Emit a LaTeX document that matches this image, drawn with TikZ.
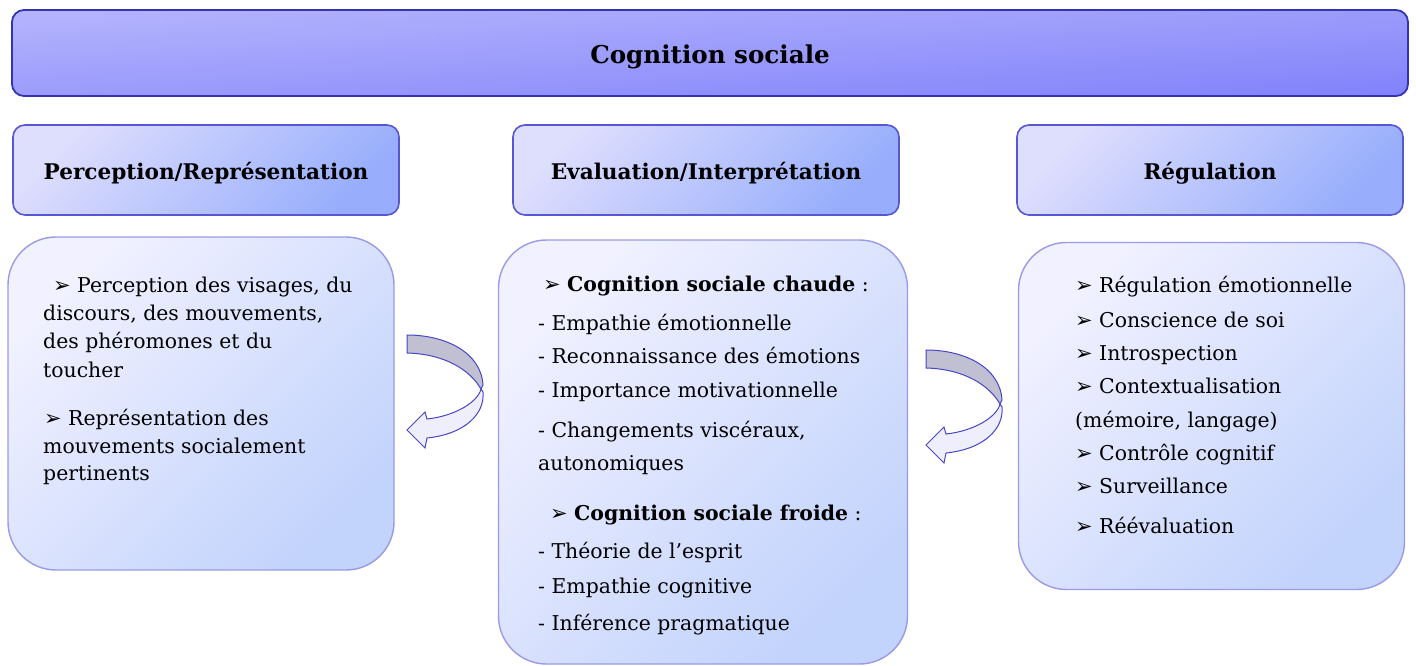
\documentclass[tikz,border=0pt]{standalone}
\usepackage{fontspec}
\setmainfont{DejaVu Serif}
\newfontfamily\symfont{DejaVu Sans}

\definecolor{bantop}{HTML}{B5B5FD}
\definecolor{banbot}{HTML}{8282FB}
\definecolor{banline}{HTML}{3333B3}
\definecolor{headtop}{HTML}{DEDEFD}
\definecolor{headbot}{HTML}{98AEFC}
\definecolor{headline}{HTML}{5757D6}
\definecolor{boxtop}{HTML}{F1F1FF}
\definecolor{boxbot}{HTML}{C2D3FC}
\definecolor{boxline}{HTML}{9A9AE8}
\definecolor{twline}{HTML}{4646C6}
\definecolor{twgrey}{HTML}{C0C0D2}
\definecolor{twpale}{HTML}{EEEEFD}

\newcommand\bul{\makebox[24pt][l]{\symfont\fontsize{21}{21}\selectfont\raisebox{-0.5pt}{➢}}}

\begin{document}
\begin{tikzpicture}[x=1pt,y=-1pt,
  every node/.style={font=\fontsize{20.4}{24}\selectfont},
  banner/.style={draw=banline,line width=1.8pt,rounded corners=12pt,
    top color=bantop,bottom color=banbot,
    path picture={\shade[left color=bantop,right color=banbot,opacity=0.5]
      (path picture bounding box.south west) rectangle (path picture bounding box.north east);},
    minimum width=1396pt,minimum height=86pt,inner sep=0pt,
    text height=28pt,text depth=6pt,
    font=\fontsize{24.6}{28}\selectfont\bfseries},
  headbox/.style={draw=headline,line width=1.6pt,rounded corners=12pt,
    top color=headtop,bottom color=headbot,shading angle=45,
    minimum width=386pt,minimum height=90pt,inner sep=0pt,
    text height=23pt,text depth=5pt,
    font=\fontsize{21.6}{26}\selectfont\bfseries},
  listbox/.style={draw=boxline,line width=1.4pt,rounded corners=48pt,
    top color=boxtop,bottom color=boxbot,shading angle=45,inner sep=0pt},
  entry/.style={anchor=base west,inner sep=0pt},
  twgray/.style={draw=twline,line width=1pt,fill=twgrey},
  twlight/.style={draw=twline,line width=1pt,fill=twpale}]
  \useasboundingbox (0,0) rectangle (1416,666);

  % banner
  \node[banner] (cogsoc) at (710,53) {Cognition sociale};

  % heads
  \node[headbox] (perchead) at (206,170) {Perception/Représentation};
  \node[headbox] (evalhead) at (706,170) {Evaluation/Interprétation};
  \node[headbox] (reghead) at (1210,170) {Régulation};

  % boxes
  \node[listbox,minimum width=386pt,minimum height=333pt] (percbox) at (201,403.5) {};
  \node[listbox,minimum width=409pt,minimum height=424pt] (evalbox) at (703,452) {};
  \node[listbox,minimum width=386pt,minimum height=347pt] (regbox) at (1211.5,416) {};

  % twisted arrows
  \foreach \ax/\ay in {0/0, 519/15} {
    \begin{scope}[shift={(\ax,\ay)}]
      \filldraw[twlight] (481,389) .. controls (478,402) and (455,416) .. (427,419)
        -- (425,412) -- (407,430) -- (425,448) -- (427,438)
        .. controls (466,434) and (485,413) .. (483,392) -- cycle;
      \filldraw[twgray] (407,335) .. controls (445,335) and (481,352) .. (483,385)
        -- (481,389) .. controls (470,370) and (445,354) .. (407,353) -- cycle;
    \end{scope}
  }

  % left text
  \foreach \y/\x/\txt [count=\i] in {
    292/53/{\bul Perception des visages, du},
    320/43/{discours, des mouvements,},
    348/43/{des phéromones et du},
    377/43/{toucher},
    425/44/{\bul Représentation des},
    453/43/{mouvements socialement},
    480/43/{pertinents}} {
    \node[entry] (perc\i) at (\x,\y) {\txt};
  }

  % middle text
  \foreach \y/\x/\txt [count=\i] in {
    291/543/{\bul\textbf{Cognition sociale chaude} :},
    330/538/{- Empathie émotionnelle},
    363/538/{- Reconnaissance des émotions},
    397/538/{- Importance motivationnelle},
    437/538/{- Changements viscéraux,},
    470/538/{autonomiques},
    520/550/{\bul\textbf{Cognition sociale froide} :},
    558/538/{- Théorie de l’esprit},
    593/538/{- Empathie cognitive},
    630/538/{- Inférence pragmatique}} {
    \node[entry] (eval\i) at (\x,\y) {\txt};
  }

  % right text
  \foreach \y/\x/\txt [count=\i] in {
    292/1075/{\bul Régulation émotionnelle},
    327/1075/{\bul Conscience de soi},
    360/1075/{\bul Introspection},
    393/1075/{\bul Contextualisation},
    427/1075/{(mémoire, langage)},
    460/1075/{\bul Contrôle cognitif},
    493/1075/{\bul Surveillance},
    533/1075/{\bul Réévaluation}} {
    \node[entry] (reg\i) at (\x,\y) {\txt};
  }
\end{tikzpicture}
\end{document}
